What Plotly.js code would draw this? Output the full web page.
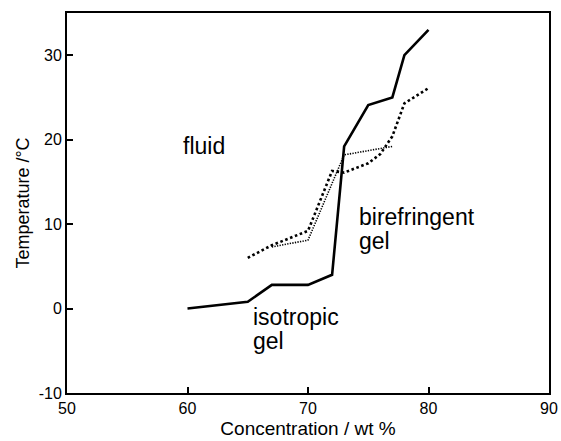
<!DOCTYPE html>
<html>
<head>
<meta charset="utf-8">
<script src="https://cdn.plot.ly/plotly-3.0.1.min.js"></script>
<style>html,body{margin:0;padding:0;background:#fff;}#chart{width:561px;height:441px;}</style>
</head>
<body>
<div id="chart"></div>
<script>
// Solid phase boundary (fluid / gel)
const xSolid = [60, 65, 67, 70, 72, 73, 75, 77, 78, 80];
const ySolid = [0, 0.8, 2.8, 2.8, 4, 19.2, 24.1, 25, 30, 33];
// Coarse dotted boundary
const xCoarse = [65, 67, 70, 72, 73, 75, 76, 77, 78, 80];
const yCoarse = [6, 7.5, 9.2, 16.3, 16.1, 17.2, 18.3, 20.4, 24.3, 26.1];
// Fine dotted boundary
const xFine = [67, 70, 73, 77];
const yFine = [7.3, 8.1, 18.2, 19.2];

const xTicks = [50, 60, 70, 80, 90];
const yTicks = [-10, 0, 10, 20, 30];

const FONT = '"Liberation Sans", Arial, Helvetica, sans-serif';

const traces = [
  {x: xCoarse, y: yCoarse, mode: 'lines', line: {color: '#000', width: 2.6, dash: '2.6px,2.6px'}, hoverinfo: 'skip'},
  {x: xFine, y: yFine, mode: 'lines', line: {color: '#000', width: 1.6, dash: '1.3px,1.3px'}, hoverinfo: 'skip'},
  {x: xSolid, y: ySolid, mode: 'lines', line: {color: '#000', width: 2.6}, hoverinfo: 'skip'}
];

const axisCommon = {
  showgrid: false, zeroline: false,
  showline: true, linecolor: '#000', linewidth: 2, mirror: true,
  ticks: 'inside', ticklen: 6, tickwidth: 2, tickcolor: '#000',
  tickfont: {family: FONT, size: 16, color: '#000'}
};

const layout = {
  width: 561, height: 441,
  margin: {l: 67, r: 12, t: 13, b: 48},
  paper_bgcolor: '#fff', plot_bgcolor: '#fff',
  showlegend: false,
  font: {family: FONT, color: '#000'},
  xaxis: Object.assign({}, axisCommon, {
    range: [50, 90], tickvals: xTicks, ticktext: xTicks.map(String),
    title: {text: 'Concentration / wt %', font: {family: FONT, size: 19, color: '#000'}, standoff: 5}
  }),
  yaxis: Object.assign({}, axisCommon, {
    range: [-10, 35], tickvals: yTicks, ticktext: yTicks.map(String),
    title: {text: 'Temperature /°C', font: {family: FONT, size: 18, color: '#000'}, standoff: 4}
  }),
  annotations: [
    {x: 59.5, y: 19.3, xref: 'x', yref: 'y', text: 'fluid', showarrow: false, xanchor: 'left', yanchor: 'middle', font: {family: FONT, size: 23, color: '#000'}},
    {x: 74.1, y: 10.8, xref: 'x', yref: 'y', text: 'birefringent', showarrow: false, xanchor: 'left', yanchor: 'middle', font: {family: FONT, size: 23, color: '#000'}},
    {x: 74.1, y: 8.0, xref: 'x', yref: 'y', text: 'gel', showarrow: false, xanchor: 'left', yanchor: 'middle', font: {family: FONT, size: 23, color: '#000'}},
    {x: 65.3, y: -1.0, xref: 'x', yref: 'y', text: 'isotropic', showarrow: false, xanchor: 'left', yanchor: 'middle', font: {family: FONT, size: 23, color: '#000'}},
    {x: 65.3, y: -3.8, xref: 'x', yref: 'y', text: 'gel', showarrow: false, xanchor: 'left', yanchor: 'middle', font: {family: FONT, size: 23, color: '#000'}}
  ]
};

Plotly.newPlot('chart', traces, layout, {staticPlot: true, displayModeBar: false});
</script>
</body>
</html>
